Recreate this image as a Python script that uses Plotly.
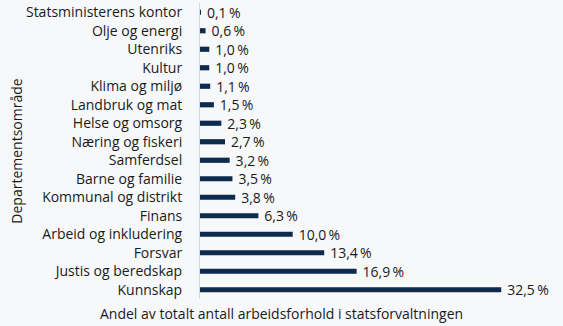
import plotly.graph_objects as go

categories = ["Statsministerens kontor", "Olje og energi", "Utenriks", "Kultur", "Klima og miljø",
              "Landbruk og mat", "Helse og omsorg", "Næring og fiskeri", "Samferdsel", "Barne og familie",
              "Kommunal og distrikt", "Finans", "Arbeid og inkludering", "Forsvar", "Justis og beredskap",
              "Kunnskap"]
values = [0.1, 0.6, 1.0, 1.0, 1.1, 1.5, 2.3, 2.7, 3.2, 3.5, 3.8, 6.3, 10.0, 13.4, 16.9, 32.5]
labels = ["\u00a0\u2009" + f"{v:.1f}".replace(".", ",") + "\u2009%" for v in values]

FONT = "Open Sans"
COL = "#1a1a1a"
fig = go.Figure(go.Bar(
    y=categories, x=values, orientation="h",
    marker=dict(color="#0d2b4c", line=dict(width=0)),
    text=labels, textposition="outside", cliponaxis=False, constraintext="none",
    textfont=dict(family=FONT, size=14, color=COL),
))
fig.update_layout(
    width=563, height=326,
    margin=dict(l=200, r=8, t=3, b=27),
    paper_bgcolor="#f7f8f9", plot_bgcolor="#f7f8f9",
    bargap=0.72, showlegend=False,
    font=dict(family=FONT, size=14, color=COL),
    xaxis=dict(range=[0, 38.3], showgrid=False, zeroline=False, showticklabels=False,
               showline=False, fixedrange=True),
    yaxis=dict(autorange="reversed", showgrid=False, zeroline=False,
               showline=True, linecolor="#d8d8d8", linewidth=1,
               ticks="", ticklabelstandoff=14,
               title=dict(text="Departementsområde", standoff=0,
                          font=dict(family=FONT, size=14, color=COL))),
    annotations=[dict(text="Andel av totalt antall arbeidsforhold i statsforvaltningen",
                      xref="paper", yref="paper", x=(281.5 - 200) / 355, y=0,
                      yshift=-14, showarrow=False, xanchor="center", yanchor="middle",
                      font=dict(family=FONT, size=14, color=COL))],
)
fig.write_html("out.html")
